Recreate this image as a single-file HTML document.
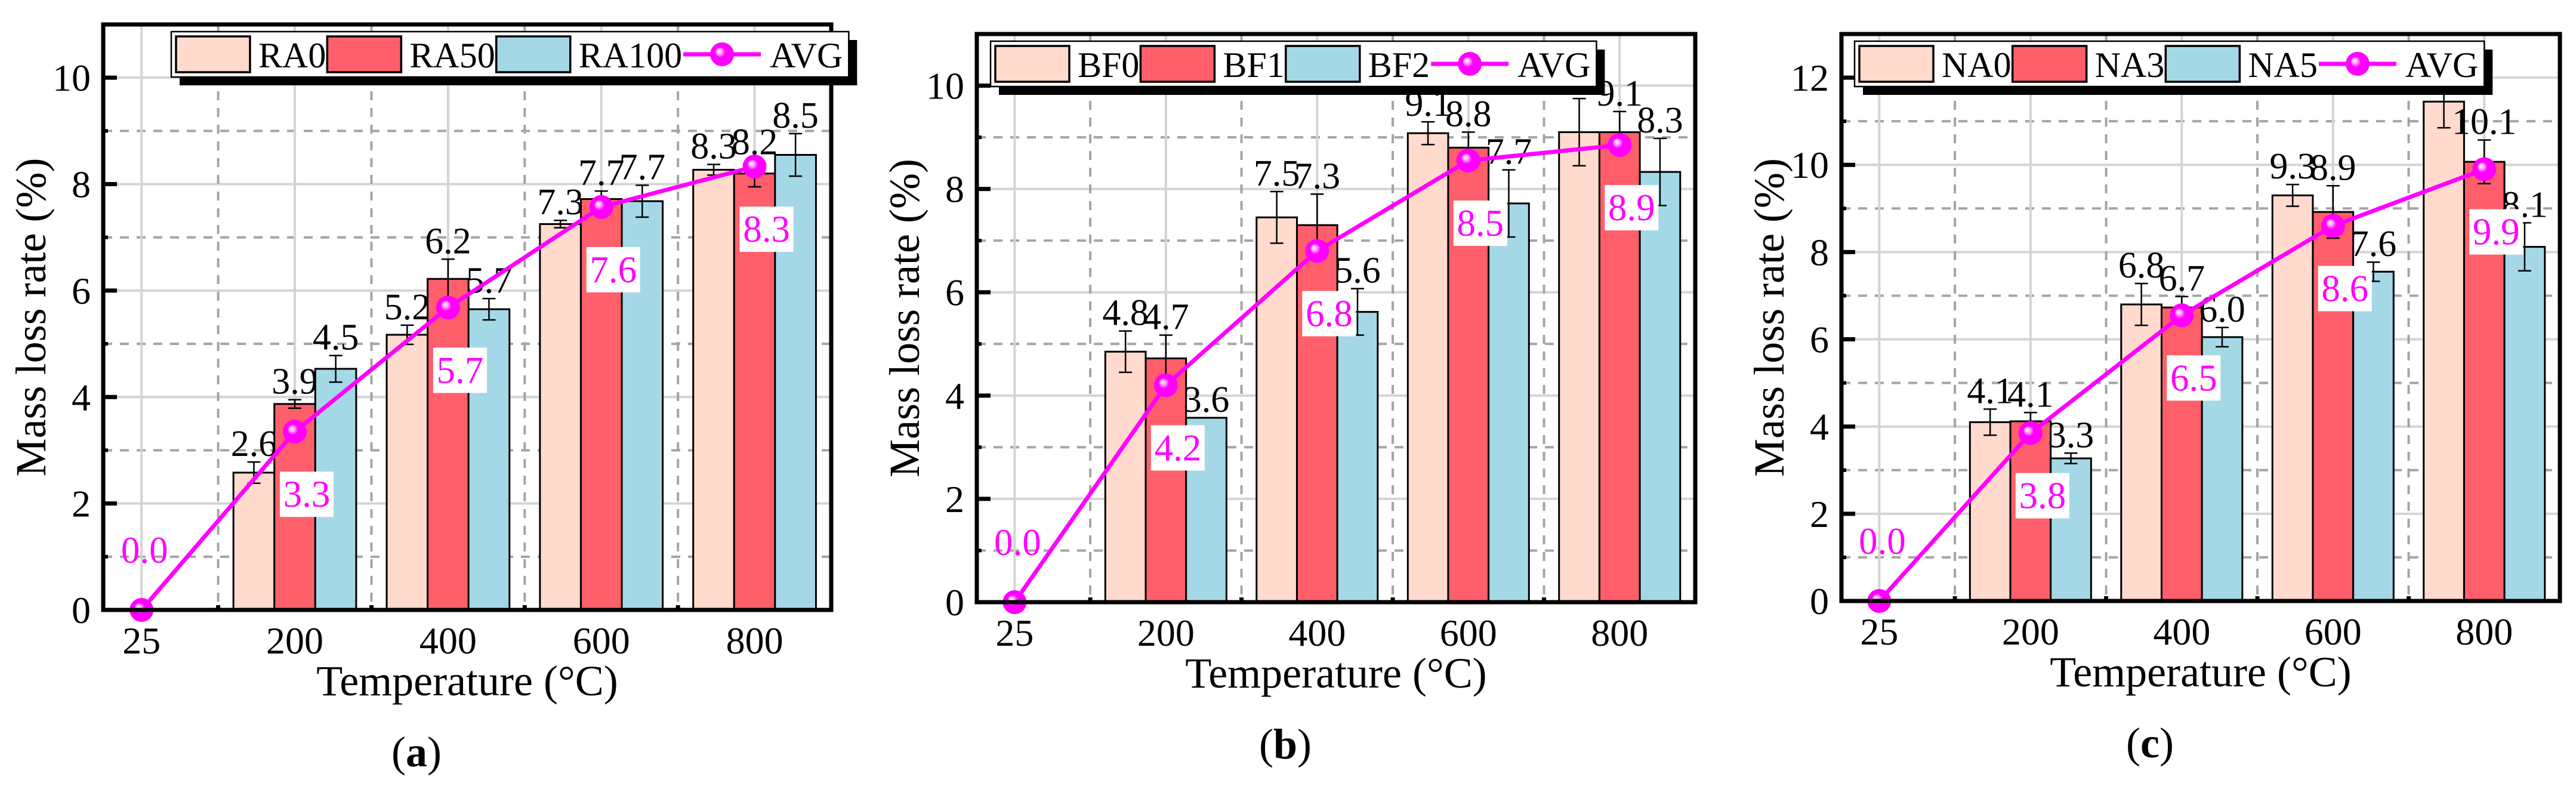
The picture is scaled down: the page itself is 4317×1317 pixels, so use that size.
<!DOCTYPE html>
<html><head><meta charset="utf-8">
<style>
html,body{margin:0;padding:0;background:#fff;}
svg{display:block;font-family:"Liberation Serif",serif;}
svg text{font-family:"Liberation Serif",serif;}
</style></head>
<body>
<svg id="fig" width="4317" height="1317" viewBox="0 0 4317 1317" xmlns="http://www.w3.org/2000/svg" font-family="Liberation Serif, serif">
<defs>
<radialGradient id="ball" cx="0.5" cy="0.5" r="0.5" fx="0.35" fy="0.35">
<stop offset="0" stop-color="#ffffff"/><stop offset="0.2" stop-color="#ffb0ff"/><stop offset="0.45" stop-color="#ff00ff"/><stop offset="1" stop-color="#ff00ff"/>
</radialGradient>
</defs>
</svg>
<script>
// shared categories
const categories = ["25","200","400","600","800"];
// panel (a)
const aNames = ["RA0","RA50","RA100"];
const aS1 = [0,2.58,5.17,7.25,8.27];
const aS2 = [0,3.87,6.22,7.72,8.2];
const aS3 = [0,4.53,5.65,7.68,8.55];
const aE1 = [0,0.2,0.18,0.07,0.1];
const aE2 = [0,0.08,0.37,0.15,0.25];
const aE3 = [0,0.25,0.2,0.3,0.4];
const aL1 = ["","2.6","5.2","7.3","8.3"];
const aL2 = ["","3.9","6.2","7.7","8.2"];
const aL3 = ["","4.5","5.7","7.7","8.5"];
const aAvg = [0,3.35,5.68,7.57,8.33];
const aAvgL = ["0.0","3.3","5.7","7.6","8.3"];
const aTicks = [0,2,4,6,8,10];
// panel (b)
const bNames = ["BF0","BF1","BF2"];
const bS1 = [0,4.85,7.45,9.08,9.1];
const bS2 = [0,4.72,7.3,8.8,9.1];
const bS3 = [0,3.57,5.62,7.72,8.33];
const bE1 = [0,0.4,0.5,0.22,0.65];
const bE2 = [0,0.45,0.6,0.3,0.4];
const bE3 = [0,0,0.45,0.65,0.65];
const bL1 = ["","4.8","7.5","9.1","9.1"];
const bL2 = ["","4.7","7.3","8.8","9.1"];
const bL3 = ["","3.6","5.6","7.7","8.3"];
const bAvg = [0,4.2,6.8,8.55,8.85];
const bAvgL = ["0.0","4.2","6.8","8.5","8.9"];
const bTicks = [0,2,4,6,8,10];
// panel (c)
const cNames = ["NA0","NA3","NA5"];
const cS1 = [0,4.1,6.8,9.3,11.45];
const cS2 = [0,4.12,6.73,8.92,10.07];
const cS3 = [0,3.27,6.05,7.55,8.12];
const cE1 = [0,0.3,0.48,0.25,0.6];
const cE2 = [0,0.2,0.25,0.6,0.5];
const cE3 = [0,0.12,0.22,0.22,0.55];
const cL1 = ["","4.1","6.8","9.3","11.5"];
const cL2 = ["","4.1","6.7","8.9","10.1"];
const cL3 = ["","3.3","6.0","7.6","8.1"];
const cAvg = [0,3.85,6.55,8.6,9.9];
const cAvgL = ["0.0","3.8","6.5","8.6","9.9"];
const cTicks = [0,2,4,6,8,10,12];

const NS="http://www.w3.org/2000/svg";
const svg=document.getElementById('fig');
const colors=["#ffdacd","#ff5f6a","#a5d8e6"];
function mk(tag,attrs,parent){const e=document.createElementNS(NS,tag);for(const k in attrs)e.setAttribute(k,attrs[k]);if(tag==='text')e.setAttribute('font-family','Liberation Serif, serif');(parent||svg).appendChild(e);return e;}

function panel(p){
  const g=mk('g',{});
  
  
  const {L,R,T,B,ymax}=p;
  const sp=(R-L)/4.75;
  const X=i=>L+(i+0.25)*sp;
  const Y=v=>B-(v/ymax)*(B-T);
  const grid=mk('g',{},g);
  
  
  for(let v=1;v<ymax;v++){
    const ln=mk('line',{x1:L,x2:R,y1:Y(v),y2:Y(v),stroke:v%2?'#a4a4a4':'#d4d4d4','stroke-width':4,'stroke-dasharray':v%2?'15,13':'none'},grid);
    
    
  }
  for(let i=0;i<categories.length;i++){
    const ln=mk('line',{x1:X(i),x2:X(i),y1:T,y2:B,stroke:'#d4d4d4','stroke-width':4},grid);
    
    
    const ld=mk('line',{x1:X(i+0.5),x2:X(i+0.5),y1:T,y2:B,stroke:'#a4a4a4','stroke-width':4,'stroke-dasharray':'15,13'},grid);
    
    
  }
  const bw=sp*0.267;
  const series=[p.s1,p.s2,p.s3], errs=[p.e1,p.e2,p.e3], labs=[p.l1,p.l2,p.l3];
  for(let k=0;k<3;k++){
    for(let i=1;i<categories.length;i++){
      const cx=X(i)+(k-1)*bw;
      const r=mk('rect',{x:cx-bw/2,y:Y(series[k][i]),width:bw,height:B-Y(series[k][i]),fill:colors[k],stroke:'#000','stroke-width':3},g);
      
      
      const e=errs[k][i];
      if(e>0){
        const eg=mk('g',{stroke:'#000','stroke-width':2.5},g);
        
        
        const t=Y(series[k][i]+e), b=Y(series[k][i]-e);
        mk('line',{x1:cx,x2:cx,y1:t,y2:b},eg);
        mk('line',{x1:cx-11,x2:cx+11,y1:t,y2:t},eg);
        mk('line',{x1:cx-11,x2:cx+11,y1:b,y2:b},eg);
      }
      const tx=mk('text',{x:cx,y:Y(series[k][i]+e)-10,'text-anchor':'middle','font-size':62,fill:'#000'},g);
      tx.textContent=labs[k][i];
      
      
    }
  }
  const pts=p.avg.map((v,i)=>X(i)+','+Y(v)).join(' ');
  const pl=mk('polyline',{points:pts,fill:'none',stroke:'#ff00ff','stroke-width':7,'stroke-linejoin':'round'},g);
  
  
  for(let i=0;i<categories.length;i++){
    const c=mk('circle',{cx:X(i),cy:Y(p.avg[i]),r:20,fill:'url(#ball)'},g);
    
    
    const ly=i===0?Y(p.avg[i])-100:Y(p.avg[i])+105;
    const lx=i===0?X(i)+5:X(i)+20;
    if(i>0){
      const bg=mk('rect',{x:lx-45,y:ly-38,width:90,height:76,fill:'#fff'},g);
      
      
    }
    const t=mk('text',{x:lx,y:ly+21,'text-anchor':'middle','font-size':63,fill:'#ff00ff'},g);
    t.textContent=p.avgL[i];
    
    
  }
  const fr=mk('rect',{x:L,y:T,width:R-L,height:B-T,fill:'none',stroke:'#000','stroke-width':7},g);
  
  
  for(let v=0;v<=ymax;v++){
    const major=v%2===0;
    const tk=mk('line',{x1:L,x2:L+(major?23:8),y1:Y(v),y2:Y(v),stroke:'#000','stroke-width':major?7:6},g);
    
    
  }
  for(let i=0;i<4;i++){
    const tk=mk('line',{x1:X(i+0.5),x2:X(i+0.5),y1:B,y2:B-8,stroke:'#000','stroke-width':7},g);
    
    
  }
  p.ticks.forEach(v=>{
    const t=mk('text',{x:L-21,y:Y(v)+22,'text-anchor':'end','font-size':64},g);
    t.textContent=v;
    
    
  });
  categories.forEach((c,i)=>{
    const t=mk('text',{x:X(i),y:B+73,'text-anchor':'middle','font-size':64},g);
    t.textContent=c;
    
    
  });
  const xt=mk('text',{x:(L+R)/2,y:B+143,'text-anchor':'middle','font-size':72},g);
  xt.textContent='Temperature (°C)';
  
  
  const yt=mk('text',{x:0,y:0,'text-anchor':'middle','font-size':72,transform:`translate(${L-97},${(T+B)/2}) rotate(-90)`},g);
  yt.textContent='Mass loss rate (%)';
  
  
  const sl=mk('text',{x:(L-170+R)/2,y:B+262,'text-anchor':'middle','font-size':72},g);
  sl.innerHTML='(<tspan font-weight="bold">'+p.id+'</tspan>)';
  
  
  const lg=mk('g',{},g);
  
  
  const lx0=p.lx, ly0=T+12, lh=76;
  const shadow=mk('rect',{x:lx0+14,y:ly0+14,width:10,height:lh,fill:'#000'},lg);
  const box=mk('rect',{x:lx0,y:ly0,width:10,height:lh,fill:'#fff',stroke:'#000','stroke-width':2.5},lg);
  let cx=lx0+8;
  for(let k=0;k<3;k++){
    const pr=mk('rect',{x:cx,y:ly0+8,width:124,height:60,fill:colors[k],stroke:'#000','stroke-width':3.5},lg);
    
    
    cx+=138;
    const t=mk('text',{x:cx,y:ly0+60,'font-size':60},lg);
    t.textContent=p.names[k];
    
    
    cx+=t.getComputedTextLength()+2;
  }
  const ll=mk('line',{x1:cx,x2:cx+130,y1:ly0+38,y2:ly0+38,stroke:'#ff00ff','stroke-width':7},lg);
  
  
  mk('circle',{cx:cx+65,cy:ly0+38,r:20,fill:'url(#ball)'},lg);
  cx+=145;
  const ta=mk('text',{x:cx,y:ly0+60,'font-size':60},lg);
  ta.textContent='AVG';
  
  
  cx+=ta.getComputedTextLength()+10;
  box.setAttribute('width',cx-lx0);
  shadow.setAttribute('width',cx-lx0);
}
panel({id:'a',L:173,R:1393,T:41,B:1022,ymax:11,lx:287,names:aNames,s1:aS1,s2:aS2,s3:aS3,e1:aE1,e2:aE2,e3:aE3,l1:aL1,l2:aL2,l3:aL3,avg:aAvg,avgL:aAvgL,ticks:aTicks});
panel({id:'b',L:1637,R:2841,T:57,B:1009,ymax:11,lx:1660,names:bNames,s1:bS1,s2:bS2,s3:bS3,e1:bE1,e2:bE2,e3:bE3,l1:bL1,l2:bL2,l3:bL3,avg:bAvg,avgL:bAvgL,ticks:bTicks});
panel({id:'c',L:3086,R:4290,T:57,B:1007,ymax:13,lx:3108,names:cNames,s1:cS1,s2:cS2,s3:cS3,e1:cE1,e2:cE2,e3:cE3,l1:cL1,l2:cL2,l3:cL3,avg:cAvg,avgL:cAvgL,ticks:cTicks});
</script>
</body></html>
